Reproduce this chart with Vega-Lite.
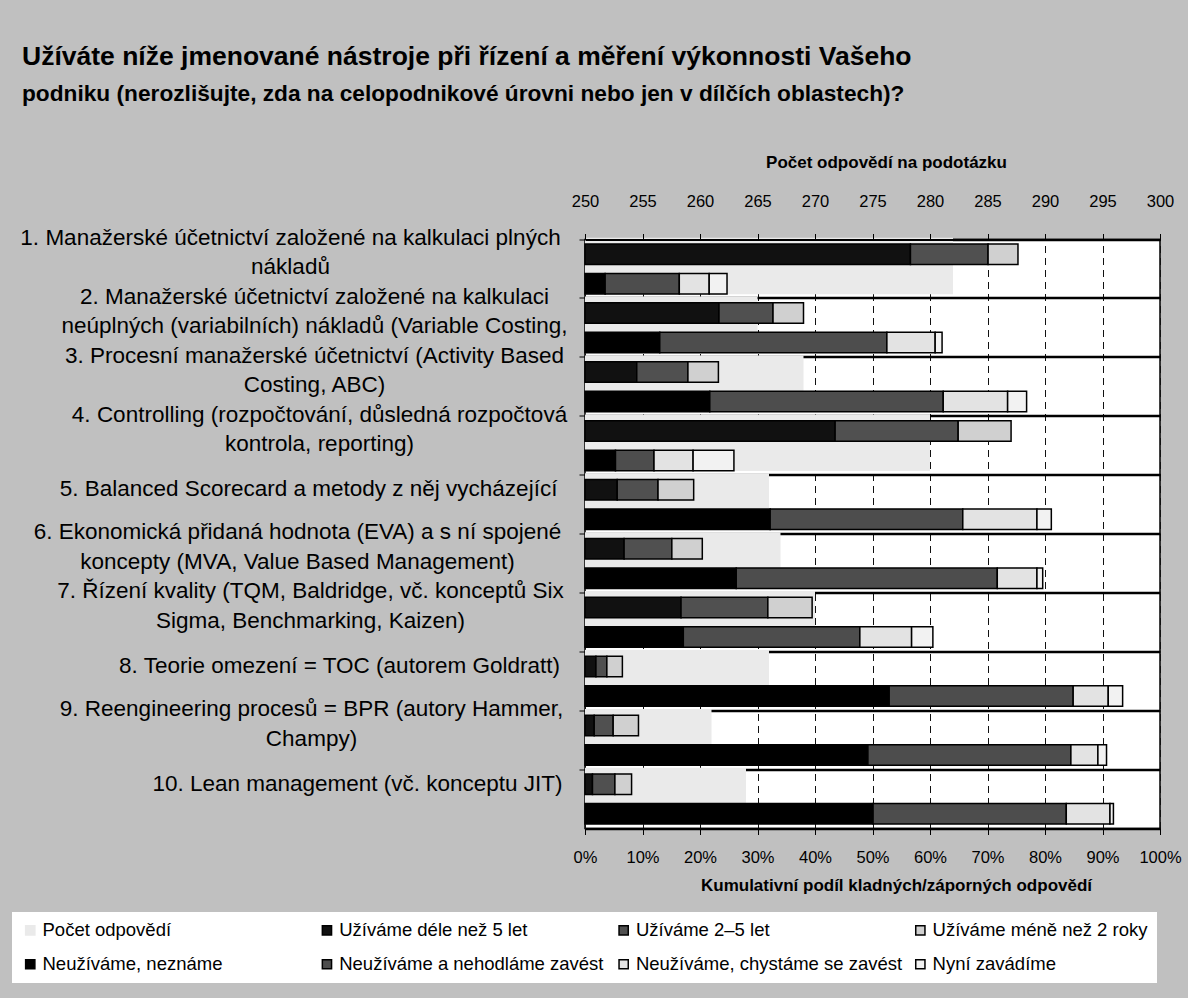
{
  "$schema": "https://vega.github.io/schema/vega-lite/v6.json",
  "width": 575,
  "height": 589,
  "autosize": {"type": "none"},
  "padding": {"left": 585, "top": 239.5, "right": 28, "bottom": 169.5},
  "background": "#c0c0c0",
  "title": {
    "text": "Užíváte níže jmenované nástroje při řízení a měření výkonnosti Vašeho",
    "subtitle": "podniku (nerozlišujte, zda na celopodnikové úrovni nebo jen v dílčích oblastech)?",
    "anchor": "start",
    "frame": "group",
    "dx": -563,
    "offset": 48,
    "fontSize": 26.5,
    "fontWeight": "bold",
    "color": "black",
    "subtitleFontSize": 22.7,
    "subtitleFontWeight": "bold",
    "subtitleColor": "black",
    "subtitlePadding": 12
  },
  "datasets": {
    "counts": [
      {"cat": "1. Manažerské účetnictví založené na kalkulaci plných\nnákladů", "series": "Počet odpovědí", "n": 282},
      {"cat": "2. Manažerské účetnictví založené na kalkulaci\nneúplných (variabilních) nákladů (Variable Costing,", "series": "Počet odpovědí", "n": 265},
      {"cat": "3. Procesní manažerské účetnictví (Activity Based\nCosting, ABC)", "series": "Počet odpovědí", "n": 269},
      {"cat": "4. Controlling (rozpočtování, důsledná rozpočtová\nkontrola, reporting)", "series": "Počet odpovědí", "n": 280},
      {"cat": "5. Balanced Scorecard a metody z něj vycházející", "series": "Počet odpovědí", "n": 266},
      {"cat": "6. Ekonomická přidaná hodnota (EVA) a s ní spojené\nkoncepty (MVA, Value Based Management)", "series": "Počet odpovědí", "n": 267},
      {"cat": "7. Řízení kvality (TQM, Baldridge, vč. konceptů Six\nSigma, Benchmarking, Kaizen)", "series": "Počet odpovědí", "n": 270},
      {"cat": "8. Teorie omezení = TOC (autorem Goldratt)", "series": "Počet odpovědí", "n": 266},
      {"cat": "9. Reengineering procesů = BPR (autory Hammer,\nChampy)", "series": "Počet odpovědí", "n": 261},
      {"cat": "10. Lean management (vč. konceptu JIT)", "series": "Počet odpovědí", "n": 264}
    ],
    "parts": [
      {"cat": "1. Manažerské účetnictví založené na kalkulaci plných\nnákladů", "grp": "U", "ord": 1, "series": "Užíváme déle než 5 let", "v": 56.6},
      {"cat": "1. Manažerské účetnictví založené na kalkulaci plných\nnákladů", "grp": "U", "ord": 2, "series": "Užíváme 2–5 let", "v": 13.5},
      {"cat": "1. Manažerské účetnictví založené na kalkulaci plných\nnákladů", "grp": "U", "ord": 3, "series": "Užíváme méně než 2 roky", "v": 5.2},
      {"cat": "1. Manažerské účetnictví založené na kalkulaci plných\nnákladů", "grp": "N", "ord": 1, "series": "Neužíváme, neznáme", "v": 3.5},
      {"cat": "1. Manažerské účetnictví založené na kalkulaci plných\nnákladů", "grp": "N", "ord": 2, "series": "Neužíváme a nehodláme zavést", "v": 12.9},
      {"cat": "1. Manažerské účetnictví založené na kalkulaci plných\nnákladů", "grp": "N", "ord": 3, "series": "Neužíváme, chystáme se zavést", "v": 5.2},
      {"cat": "1. Manažerské účetnictví založené na kalkulaci plných\nnákladů", "grp": "N", "ord": 4, "series": "Nyní zavádíme", "v": 3.1},

      {"cat": "2. Manažerské účetnictví založené na kalkulaci\nneúplných (variabilních) nákladů (Variable Costing,", "grp": "U", "ord": 1, "series": "Užíváme déle než 5 let", "v": 23.3},
      {"cat": "2. Manažerské účetnictví založené na kalkulaci\nneúplných (variabilních) nákladů (Variable Costing,", "grp": "U", "ord": 2, "series": "Užíváme 2–5 let", "v": 9.4},
      {"cat": "2. Manažerské účetnictví založené na kalkulaci\nneúplných (variabilních) nákladů (Variable Costing,", "grp": "U", "ord": 3, "series": "Užíváme méně než 2 roky", "v": 5.3},
      {"cat": "2. Manažerské účetnictví založené na kalkulaci\nneúplných (variabilních) nákladů (Variable Costing,", "grp": "N", "ord": 1, "series": "Neužíváme, neznáme", "v": 13.0},
      {"cat": "2. Manažerské účetnictví založené na kalkulaci\nneúplných (variabilních) nákladů (Variable Costing,", "grp": "N", "ord": 2, "series": "Neužíváme a nehodláme zavést", "v": 39.5},
      {"cat": "2. Manažerské účetnictví založené na kalkulaci\nneúplných (variabilních) nákladů (Variable Costing,", "grp": "N", "ord": 3, "series": "Neužíváme, chystáme se zavést", "v": 8.4},
      {"cat": "2. Manažerské účetnictví založené na kalkulaci\nneúplných (variabilních) nákladů (Variable Costing,", "grp": "N", "ord": 4, "series": "Nyní zavádíme", "v": 1.2},

      {"cat": "3. Procesní manažerské účetnictví (Activity Based\nCosting, ABC)", "grp": "U", "ord": 1, "series": "Užíváme déle než 5 let", "v": 9.0},
      {"cat": "3. Procesní manažerské účetnictví (Activity Based\nCosting, ABC)", "grp": "U", "ord": 2, "series": "Užíváme 2–5 let", "v": 8.9},
      {"cat": "3. Procesní manažerské účetnictví (Activity Based\nCosting, ABC)", "grp": "U", "ord": 3, "series": "Užíváme méně než 2 roky", "v": 5.3},
      {"cat": "3. Procesní manažerské účetnictví (Activity Based\nCosting, ABC)", "grp": "N", "ord": 1, "series": "Neužíváme, neznáme", "v": 21.7},
      {"cat": "3. Procesní manažerské účetnictví (Activity Based\nCosting, ABC)", "grp": "N", "ord": 2, "series": "Neužíváme a nehodláme zavést", "v": 40.6},
      {"cat": "3. Procesní manažerské účetnictví (Activity Based\nCosting, ABC)", "grp": "N", "ord": 3, "series": "Neužíváme, chystáme se zavést", "v": 11.2},
      {"cat": "3. Procesní manažerské účetnictví (Activity Based\nCosting, ABC)", "grp": "N", "ord": 4, "series": "Nyní zavádíme", "v": 3.3},

      {"cat": "4. Controlling (rozpočtování, důsledná rozpočtová\nkontrola, reporting)", "grp": "U", "ord": 1, "series": "Užíváme déle než 5 let", "v": 43.5},
      {"cat": "4. Controlling (rozpočtování, důsledná rozpočtová\nkontrola, reporting)", "grp": "U", "ord": 2, "series": "Užíváme 2–5 let", "v": 21.4},
      {"cat": "4. Controlling (rozpočtování, důsledná rozpočtová\nkontrola, reporting)", "grp": "U", "ord": 3, "series": "Užíváme méně než 2 roky", "v": 9.2},
      {"cat": "4. Controlling (rozpočtování, důsledná rozpočtová\nkontrola, reporting)", "grp": "N", "ord": 1, "series": "Neužíváme, neznáme", "v": 5.3},
      {"cat": "4. Controlling (rozpočtování, důsledná rozpočtová\nkontrola, reporting)", "grp": "N", "ord": 2, "series": "Neužíváme a nehodláme zavést", "v": 6.7},
      {"cat": "4. Controlling (rozpočtování, důsledná rozpočtová\nkontrola, reporting)", "grp": "N", "ord": 3, "series": "Neužíváme, chystáme se zavést", "v": 6.8},
      {"cat": "4. Controlling (rozpočtování, důsledná rozpočtová\nkontrola, reporting)", "grp": "N", "ord": 4, "series": "Nyní zavádíme", "v": 7.1},

      {"cat": "5. Balanced Scorecard a metody z něj vycházející", "grp": "U", "ord": 1, "series": "Užíváme déle než 5 let", "v": 5.6},
      {"cat": "5. Balanced Scorecard a metody z něj vycházející", "grp": "U", "ord": 2, "series": "Užíváme 2–5 let", "v": 7.1},
      {"cat": "5. Balanced Scorecard a metody z něj vycházející", "grp": "U", "ord": 3, "series": "Užíváme méně než 2 roky", "v": 6.2},
      {"cat": "5. Balanced Scorecard a metody z něj vycházející", "grp": "N", "ord": 1, "series": "Neužíváme, neznáme", "v": 32.2},
      {"cat": "5. Balanced Scorecard a metody z něj vycházející", "grp": "N", "ord": 2, "series": "Neužíváme a nehodláme zavést", "v": 33.5},
      {"cat": "5. Balanced Scorecard a metody z něj vycházející", "grp": "N", "ord": 3, "series": "Neužíváme, chystáme se zavést", "v": 12.9},
      {"cat": "5. Balanced Scorecard a metody z něj vycházející", "grp": "N", "ord": 4, "series": "Nyní zavádíme", "v": 2.5},

      {"cat": "6. Ekonomická přidaná hodnota (EVA) a s ní spojené\nkoncepty (MVA, Value Based Management)", "grp": "U", "ord": 1, "series": "Užíváme déle než 5 let", "v": 6.8},
      {"cat": "6. Ekonomická přidaná hodnota (EVA) a s ní spojené\nkoncepty (MVA, Value Based Management)", "grp": "U", "ord": 2, "series": "Užíváme 2–5 let", "v": 8.3},
      {"cat": "6. Ekonomická přidaná hodnota (EVA) a s ní spojené\nkoncepty (MVA, Value Based Management)", "grp": "U", "ord": 3, "series": "Užíváme méně než 2 roky", "v": 5.3},
      {"cat": "6. Ekonomická přidaná hodnota (EVA) a s ní spojené\nkoncepty (MVA, Value Based Management)", "grp": "N", "ord": 1, "series": "Neužíváme, neznáme", "v": 26.3},
      {"cat": "6. Ekonomická přidaná hodnota (EVA) a s ní spojené\nkoncepty (MVA, Value Based Management)", "grp": "N", "ord": 2, "series": "Neužíváme a nehodláme zavést", "v": 45.4},
      {"cat": "6. Ekonomická přidaná hodnota (EVA) a s ní spojené\nkoncepty (MVA, Value Based Management)", "grp": "N", "ord": 3, "series": "Neužíváme, chystáme se zavést", "v": 6.9},
      {"cat": "6. Ekonomická přidaná hodnota (EVA) a s ní spojené\nkoncepty (MVA, Value Based Management)", "grp": "N", "ord": 4, "series": "Nyní zavádíme", "v": 1.0},

      {"cat": "7. Řízení kvality (TQM, Baldridge, vč. konceptů Six\nSigma, Benchmarking, Kaizen)", "grp": "U", "ord": 1, "series": "Užíváme déle než 5 let", "v": 16.7},
      {"cat": "7. Řízení kvality (TQM, Baldridge, vč. konceptů Six\nSigma, Benchmarking, Kaizen)", "grp": "U", "ord": 2, "series": "Užíváme 2–5 let", "v": 15.1},
      {"cat": "7. Řízení kvality (TQM, Baldridge, vč. konceptů Six\nSigma, Benchmarking, Kaizen)", "grp": "U", "ord": 3, "series": "Užíváme méně než 2 roky", "v": 7.7},
      {"cat": "7. Řízení kvality (TQM, Baldridge, vč. konceptů Six\nSigma, Benchmarking, Kaizen)", "grp": "N", "ord": 1, "series": "Neužíváme, neznáme", "v": 17.1},
      {"cat": "7. Řízení kvality (TQM, Baldridge, vč. konceptů Six\nSigma, Benchmarking, Kaizen)", "grp": "N", "ord": 2, "series": "Neužíváme a nehodláme zavést", "v": 30.7},
      {"cat": "7. Řízení kvality (TQM, Baldridge, vč. konceptů Six\nSigma, Benchmarking, Kaizen)", "grp": "N", "ord": 3, "series": "Neužíváme, chystáme se zavést", "v": 9.0},
      {"cat": "7. Řízení kvality (TQM, Baldridge, vč. konceptů Six\nSigma, Benchmarking, Kaizen)", "grp": "N", "ord": 4, "series": "Nyní zavádíme", "v": 3.7},

      {"cat": "8. Teorie omezení = TOC (autorem Goldratt)", "grp": "U", "ord": 1, "series": "Užíváme déle než 5 let", "v": 1.9},
      {"cat": "8. Teorie omezení = TOC (autorem Goldratt)", "grp": "U", "ord": 2, "series": "Užíváme 2–5 let", "v": 1.9},
      {"cat": "8. Teorie omezení = TOC (autorem Goldratt)", "grp": "U", "ord": 3, "series": "Užíváme méně než 2 roky", "v": 2.7},
      {"cat": "8. Teorie omezení = TOC (autorem Goldratt)", "grp": "N", "ord": 1, "series": "Neužíváme, neznáme", "v": 52.9},
      {"cat": "8. Teorie omezení = TOC (autorem Goldratt)", "grp": "N", "ord": 2, "series": "Neužíváme a nehodláme zavést", "v": 32.0},
      {"cat": "8. Teorie omezení = TOC (autorem Goldratt)", "grp": "N", "ord": 3, "series": "Neužíváme, chystáme se zavést", "v": 6.1},
      {"cat": "8. Teorie omezení = TOC (autorem Goldratt)", "grp": "N", "ord": 4, "series": "Nyní zavádíme", "v": 2.5},

      {"cat": "9. Reengineering procesů = BPR (autory Hammer,\nChampy)", "grp": "U", "ord": 1, "series": "Užíváme déle než 5 let", "v": 1.6},
      {"cat": "9. Reengineering procesů = BPR (autory Hammer,\nChampy)", "grp": "U", "ord": 2, "series": "Užíváme 2–5 let", "v": 3.3},
      {"cat": "9. Reengineering procesů = BPR (autory Hammer,\nChampy)", "grp": "U", "ord": 3, "series": "Užíváme méně než 2 roky", "v": 4.4},
      {"cat": "9. Reengineering procesů = BPR (autory Hammer,\nChampy)", "grp": "N", "ord": 1, "series": "Neužíváme, neznáme", "v": 49.2},
      {"cat": "9. Reengineering procesů = BPR (autory Hammer,\nChampy)", "grp": "N", "ord": 2, "series": "Neužíváme a nehodláme zavést", "v": 35.3},
      {"cat": "9. Reengineering procesů = BPR (autory Hammer,\nChampy)", "grp": "N", "ord": 3, "series": "Neužíváme, chystáme se zavést", "v": 4.7},
      {"cat": "9. Reengineering procesů = BPR (autory Hammer,\nChampy)", "grp": "N", "ord": 4, "series": "Nyní zavádíme", "v": 1.5},

      {"cat": "10. Lean management (vč. konceptu JIT)", "grp": "U", "ord": 1, "series": "Užíváme déle než 5 let", "v": 1.3},
      {"cat": "10. Lean management (vč. konceptu JIT)", "grp": "U", "ord": 2, "series": "Užíváme 2–5 let", "v": 3.9},
      {"cat": "10. Lean management (vč. konceptu JIT)", "grp": "U", "ord": 3, "series": "Užíváme méně než 2 roky", "v": 2.9},
      {"cat": "10. Lean management (vč. konceptu JIT)", "grp": "N", "ord": 1, "series": "Neužíváme, neznáme", "v": 50.1},
      {"cat": "10. Lean management (vč. konceptu JIT)", "grp": "N", "ord": 2, "series": "Neužíváme a nehodláme zavést", "v": 33.6},
      {"cat": "10. Lean management (vč. konceptu JIT)", "grp": "N", "ord": 3, "series": "Neužíváme, chystáme se zavést", "v": 7.6},
      {"cat": "10. Lean management (vč. konceptu JIT)", "grp": "N", "ord": 4, "series": "Nyní zavádíme", "v": 0.6}
    ]
  },
  "layer": [
    {
      "data": {"name": "counts"},
      "mark": {"type": "bar", "height": {"band": 0.96}, "yOffset": -3, "strokeWidth": 0},
      "encoding": {
        "y": {
          "field": "cat", "type": "nominal", "sort": null,
          "scale": {"paddingInner": 0, "paddingOuter": 0},
          "axis": {
            "title": null,
            "bandPosition": 0,
            "domain": false,
            "ticks": true, "tickSize": 6, "tickColor": "black", "tickWidth": 1,
            "grid": true, "gridColor": "black", "gridWidth": 2.5,
            "labelExpr": "split(datum.label, '\\n')",
            "labelAlign": "center",
            "labelBaseline": "middle",
            "labelPadding": {"expr": "[289,265,265,260,271,282,269,240,268,222][parseInt(datum.value)-1]"},
            "labelOffset": {"expr": "indexof(datum.value, '\\n') >= 0 ? -31 : -15.5"},
            "labelFontSize": 22.5,
            "labelLineHeight": 29.5,
            "labelColor": "black",
            "labelLimit": 800
          }
        },
        "x": {
          "field": "n", "type": "quantitative", "stack": null,
          "scale": {"domain": [250, 300], "zero": false, "nice": false},
          "axis": {
            "orient": "top",
            "title": "Počet odpovědí na podotázku",
            "titleX": 301,
            "values": [250, 255, 260, 265, 270, 275, 280, 285, 290, 295, 300],
            "grid": false,
            "domain": true, "domainColor": "black", "domainWidth": 2,
            "ticks": true, "tickSize": 6, "tickColor": "black",
            "labelFontSize": 16.5, "labelColor": "black", "labelPadding": 24, "labelFlush": false,
            "titleFontSize": 17, "titleFontWeight": "bold", "titleColor": "black", "titlePadding": 22,
            "zindex": 1
          }
        },
        "x2": {"datum": 250},
        "color": {
          "field": "series", "type": "nominal",
          "scale": {
            "domain": ["Počet odpovědí", "Užíváme déle než 5 let", "Užíváme 2–5 let", "Užíváme méně než 2 roky", "Neužíváme, neznáme", "Neužíváme a nehodláme zavést", "Neužíváme, chystáme se zavést", "Nyní zavádíme"],
            "range": ["#eaeaea", "#111111", "#505050", "#d0d0d0", "#000000", "#4d4d4d", "#e3e3e3", "#f2f2f2"]
          },
          "legend": {
            "orient": "none", "legendX": -573, "legendY": 672.5,
            "direction": "horizontal", "columns": 4, "gridAlign": "all",
            "columnPadding": 8.7, "rowPadding": 15, "padding": 9,
            "fillColor": "white",
            "title": null,
            "symbolType": "square", "symbolSize": 85, "symbolStrokeWidth": 1.5,
            "labelFontSize": 18.5, "labelColor": "black", "labelOffset": 3, "labelLimit": 400
          }
        },
        "stroke": {
          "field": "series", "type": "nominal",
          "scale": {
            "domain": ["Počet odpovědí", "Užíváme déle než 5 let", "Užíváme 2–5 let", "Užíváme méně než 2 roky", "Neužíváme, neznáme", "Neužíváme a nehodláme zavést", "Neužíváme, chystáme se zavést", "Nyní zavádíme"],
            "range": ["#eaeaea", "#000000", "#000000", "#000000", "#000000", "#000000", "#000000", "#000000"]
          },
          "legend": {
            "orient": "none", "legendX": -573, "legendY": 672.5,
            "direction": "horizontal", "columns": 4, "gridAlign": "all",
            "columnPadding": 8.7, "rowPadding": 15, "padding": 9,
            "fillColor": "white",
            "title": null,
            "symbolType": "square", "symbolSize": 85, "symbolStrokeWidth": 1.5,
            "labelFontSize": 18.5, "labelColor": "black", "labelOffset": 3, "labelLimit": 400
          }
        }
      }
    },
    {
      "data": {"name": "parts"},
      "mark": {"type": "bar", "strokeWidth": 1.5},
      "encoding": {
        "y": {"field": "cat", "type": "nominal", "sort": null},
        "yOffset": {
          "field": "grp", "type": "nominal",
          "scale": {"domain": ["U", "N"], "paddingInner": 0.305, "paddingOuter": 0.15}
        },
        "x": {
          "field": "v", "type": "quantitative", "stack": "zero",
          "scale": {"domain": [0, 100], "nice": false},
          "axis": {
            "orient": "bottom",
            "title": "Kumulativní podíl kladných/záporných odpovědí",
            "titleX": 311,
            "values": [0, 10, 20, 30, 40, 50, 60, 70, 80, 90, 100],
            "labelExpr": "datum.value + '%'",
            "grid": true, "gridDash": [7, 5], "gridColor": "#111111", "gridWidth": 1,
            "domain": true, "domainColor": "black", "domainWidth": 2.5,
            "ticks": true, "tickSize": 6, "tickColor": "black",
            "labelFontSize": 16.5, "labelColor": "black", "labelPadding": 15, "labelFlush": false,
            "titleFontSize": 17, "titleFontWeight": "bold", "titleColor": "black", "titlePadding": 11
          }
        },
        "color": {"field": "series", "type": "nominal"},
        "stroke": {"field": "series", "type": "nominal"},
        "order": {"field": "ord", "type": "quantitative"}
      }
    }
  ],
  "resolve": {"scale": {"x": "independent"}, "axis": {"x": "independent"}},
  "config": {
    "font": "Liberation Sans",
    "view": {"fill": "white", "stroke": "black", "strokeWidth": 1.5}
  }
}
